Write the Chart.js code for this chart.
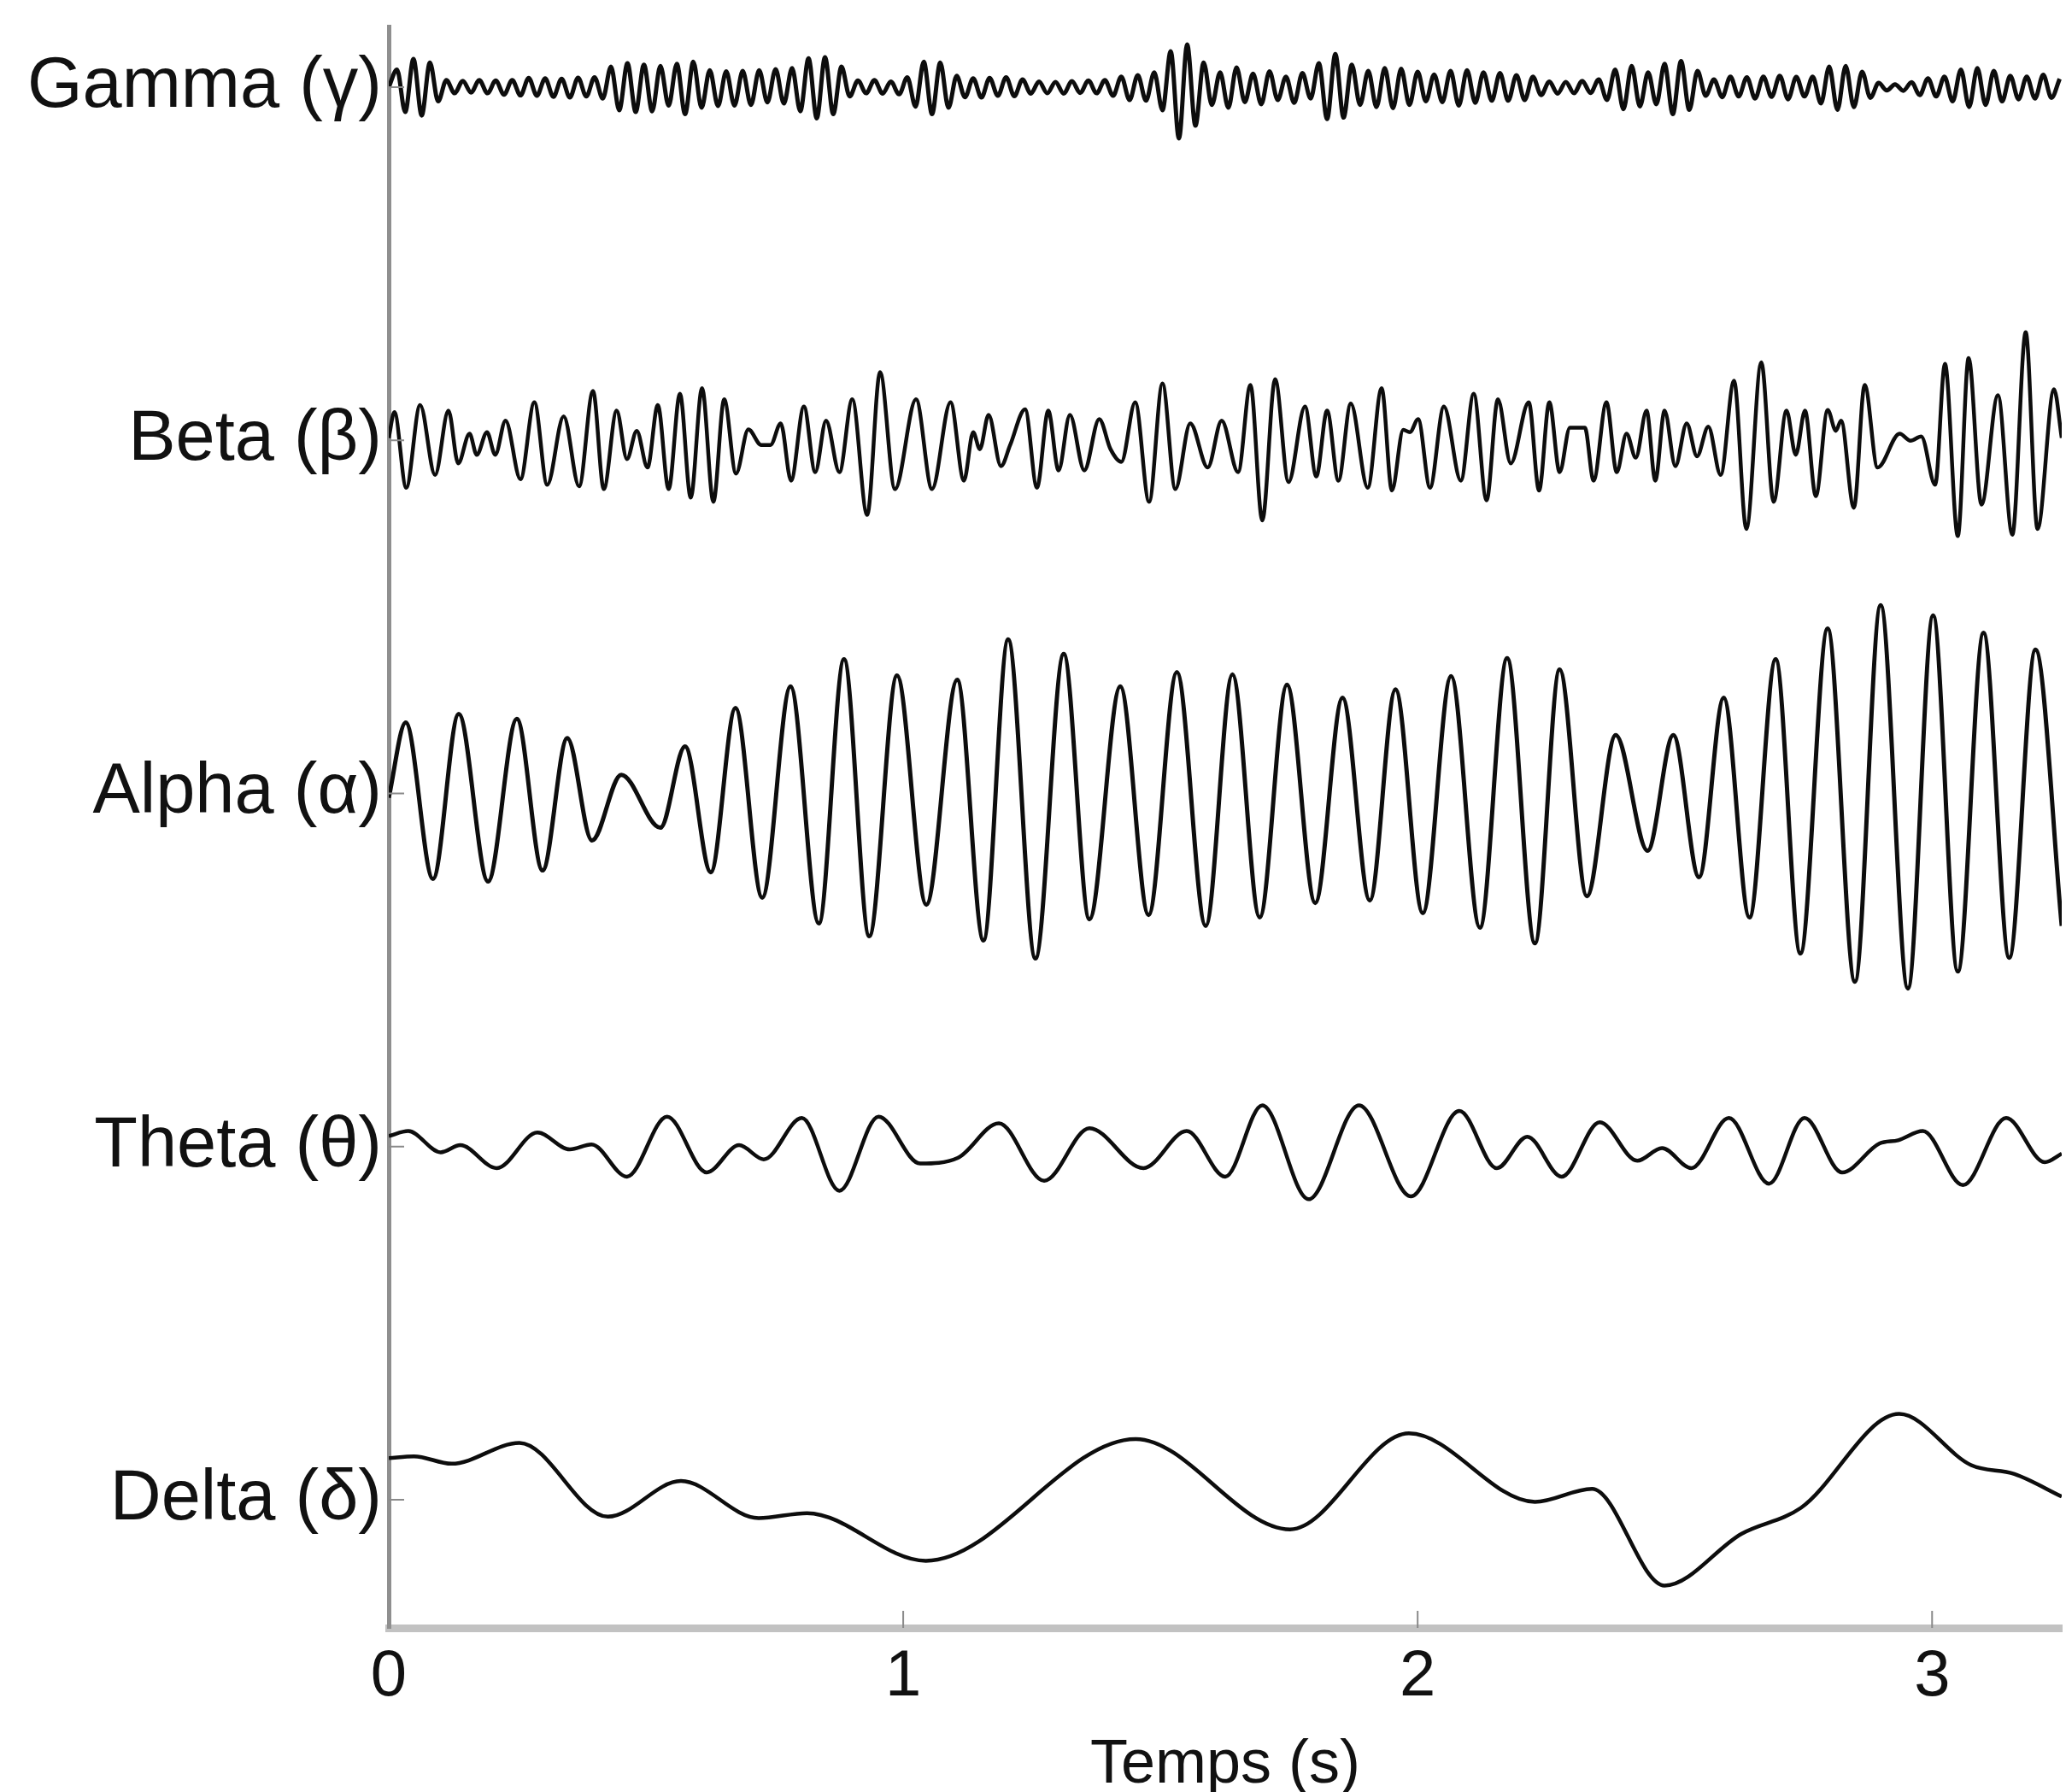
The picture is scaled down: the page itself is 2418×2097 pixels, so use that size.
<!DOCTYPE html>
<html lang="fr">
<head>
<meta charset="UTF-8" />
<title>Rythmes EEG</title>
<script src="https://cdn.jsdelivr.net/npm/chart.js"></script>
<style>
  body { margin: 0; background: #fff; }
  #wrap { width: 2418px; height: 2097px; }
</style>
</head>
<body>
<div id="wrap"><canvas id="chartEEG" width="2418" height="2097"></canvas></div>
<script>
// bandes, de bas en haut (une ligne de base par bande)
const bandLabels = ['Delta (δ)', 'Theta (θ)', 'Alpha (α)', 'Beta (β)', 'Gamma (γ)'];
const timeTicks = [0, 1, 2, 3];

// amplitudes en % de l'écart entre deux lignes de base
const gammaT = [
  0.000,0.016,0.032,0.048,0.064,0.080,0.096,0.112,0.128,0.144,
  0.160,0.176,0.192,0.208,0.224,0.240,0.256,0.272,0.288,0.304,
  0.320,0.336,0.352,0.368,0.384,0.400,0.416,0.432,0.448,0.464,
  0.480,0.496,0.512,0.528,0.544,0.560,0.576,0.592,0.608,0.624,
  0.640,0.656,0.672,0.688,0.704,0.720,0.736,0.752,0.768,0.784,
  0.800,0.816,0.832,0.848,0.864,0.880,0.896,0.912,0.928,0.944,
  0.960,0.976,0.992,1.008,1.024,1.040,1.056,1.072,1.088,1.104,
  1.120,1.136,1.152,1.168,1.184,1.200,1.216,1.232,1.248,1.264,
  1.280,1.296,1.312,1.328,1.344,1.360,1.376,1.392,1.408,1.424,
  1.440,1.456,1.472,1.488,1.504,1.520,1.536,1.552,1.568,1.584,
  1.600,1.616,1.632,1.648,1.664,1.680,1.696,1.712,1.728,1.744,
  1.760,1.776,1.792,1.808,1.824,1.840,1.856,1.872,1.888,1.904,
  1.920,1.936,1.952,1.968,1.984,2.000,2.016,2.032,2.048,2.064,
  2.080,2.096,2.112,2.128,2.144,2.160,2.176,2.192,2.208,2.224,
  2.240,2.256,2.272,2.288,2.304,2.320,2.336,2.352,2.368,2.384,
  2.400,2.416,2.432,2.448,2.464,2.480,2.496,2.512,2.528,2.544,
  2.560,2.576,2.592,2.608,2.624,2.640,2.656,2.672,2.688,2.704,
  2.720,2.736,2.752,2.768,2.784,2.800,2.816,2.832,2.848,2.864,
  2.880,2.896,2.912,2.928,2.944,2.960,2.976,2.992,3.008,3.024,
  3.040,3.056,3.072,3.088,3.104,3.120,3.136,3.152,3.168,3.184,
  3.200,3.216,3.232,3.248
];
const gammaV = [
  0,5,-7,8,-8,7,-4,2.0,-1.7,1.8,
  -1.5,2.0,-1.7,1.9,-2.1,2.0,-2.3,2.6,-2.4,2.5,
  -2.7,2.4,-2.9,2.7,-2.6,2.8,-3.2,5.8,-6.5,6.8,
  -7.0,6.4,-6.8,6.0,-5.2,6.6,-7.6,7.2,-5.8,4.8,
  -5.3,4.5,-5.2,4.6,-5.0,4.8,-4.3,5.1,-4.6,5.4,
  -6.8,8.2,-8.8,8.5,-7.6,5.8,-2.6,1.9,-1.7,2.0,
  -1.8,1.6,-2.0,2.8,-5.5,7.2,-7.6,7.0,-5.8,3.2,
  -2.8,2.5,-2.9,2.6,-2.4,2.8,-2.5,2.2,-1.8,1.6,
  -1.7,1.5,-1.8,1.7,-1.6,1.9,-1.7,2.0,-2.4,3.0,
  -3.6,3.4,-3.8,4.2,-6.5,10.2,-14.5,12.1,-10.9,7.0,
  -5.0,4.2,-5.8,5.6,-4.2,3.8,-4.8,4.5,-3.6,3.0,
  -4.4,4.0,-3.2,6.8,-9.0,9.4,-8.6,6.4,-5.0,4.6,
  -5.6,5.4,-5.9,5.2,-5.0,4.4,-4.0,3.6,-4.2,4.6,
  -5.2,4.8,-4.4,4.2,-3.8,4.0,-3.8,3.4,-3.6,3.0,
  -2.2,1.6,-1.8,1.5,-1.7,1.8,-1.6,2.2,-3.6,5.0,
  -6.2,6.0,-5.4,4.2,-4.8,6.6,-7.6,7.4,-6.4,4.6,
  -2.4,2.2,-2.8,3.0,-2.6,2.8,-3.2,3.0,-2.7,3.2,
  -3.4,2.9,-2.6,3.0,-4.6,5.8,-6.4,6.0,-5.6,4.4,
  -3.0,1.2,-0.9,0.8,-1.0,1.4,-2.2,2.5,-2.6,3.0,
  -4.0,5.0,-5.6,5.4,-5.0,4.6,-4.0,3.2,-3.4,3.0,
  -3.2,3.5,-3.0,2.4
];

const betaT = [
  0.000,0.011,0.034,0.061,0.090,0.116,0.135,0.157,0.171,0.191,0.207,0.227,0.256,0.283,0.308,0.340,
  0.370,0.397,0.418,0.443,0.463,0.482,0.503,0.523,0.544,0.566,0.587,0.609,0.631,0.652,0.675,0.699,
  0.724,0.742,0.762,0.782,0.807,0.829,0.850,0.876,0.901,0.930,0.955,0.984,1.025,1.056,1.092,
  1.118,1.136,1.149,1.166,1.190,1.208,1.237,1.260,1.282,1.302,1.324,1.352,1.381,1.403,1.424,1.451,
  1.478,1.504,1.529,1.558,1.592,1.619,1.651,1.675,1.698,1.723,1.749,1.781,1.803,1.824,1.846,1.870,
  1.903,1.930,1.950,1.972,1.985,2.001,2.024,2.051,2.084,2.109,2.134,2.156,2.181,
  2.216,2.236,2.256,2.276,2.296,2.325,2.342,2.367,2.387,2.406,2.424,2.445,2.462,2.480,2.501,2.523,
  2.543,2.565,2.589,2.615,2.639,2.668,2.692,2.717,2.735,2.753,2.774,2.797,2.813,2.823,2.848,2.869,
  2.894,2.937,2.958,2.979,3.006,3.025,3.050,3.071,3.096,3.128,3.156,3.182,3.205,3.237,3.252
];
const betaV = [
  0.7,8.0,-13.4,10.0,-9.8,8.4,-6.5,1.9,-4.1,2.3,-4.1,5.6,-11.0,10.8,-12.6,6.8,
  -13.0,14.0,-13.8,8.4,-5.3,2.7,-7.7,10.0,-13.8,13.2,-16.2,14.8,-17.4,11.6,-9.4,3.1,
  -1.3,-1.3,4.8,-11.4,9.6,-9.0,5.6,-9.0,11.6,-21.1,19.3,-13.8,11.6,-13.8,10.8,
  -11.4,2.3,-2.5,7.2,-7.3,-1.3,8.8,-13.4,8.4,-8.5,7.2,-8.5,6.0,-2.5,-6.1,10.8,
  -17.4,16.1,-13.8,4.8,-7.7,5.6,-9.0,15.7,-22.7,17.3,-11.8,9.6,-10.2,8.4,-11.4,10.4,
  -13.4,14.8,-14.2,3.0,2.3,6.0,-13.4,9.6,-11.4,13.2,-17.0,11.6,-6.5,
  10.8,-14.2,10.8,-9.0,3.6,3.6,-11.4,10.8,-9.0,1.9,-4.9,8.4,-11.4,8.4,-7.3,4.8,
  -4.5,3.9,-9.8,16.9,-25.1,22.1,-17.4,8.4,-4.1,8.4,-15.8,8.6,2.7,5.6,-19.1,15.7,
  -7.7,1.9,-0.1,1.1,-12.6,21.7,-27.1,23.3,-18.2,12.8,-26.7,30.6,-25.1,14.5,0.7
];

const alphaT = [
  0.000,0.033,0.086,0.136,0.193,0.249,0.299,0.347,0.395,0.452,0.528,0.576,0.626,0.674,0.726,0.781,
  0.836,0.885,0.934,0.988,1.045,1.105,1.156,1.204,1.257,1.312,1.362,1.422,1.477,1.532,1.588,1.640,
  1.693,1.746,1.801,1.854,1.907,1.957,2.010,2.065,2.121,2.174,2.228,2.276,2.329,2.385,2.447,2.497,
  2.547,2.595,2.645,2.696,2.744,2.797,2.850,2.900,2.953,3.002,3.050,3.100,3.150,3.201,3.252
];
const alphaV = [
  -1.2,20.1,-24.2,22.5,-24.9,21.1,-21.8,15.7,-13.3,5.3,-9.7,13.3,-22.3,24.2,-29.5,30.3,
  -36.8,38.0,-40.4,33.4,-31.5,32.2,-41.6,43.6,-46.7,39.5,-35.6,30.3,-34.4,34.4,-37.5,33.7,
  -35.1,30.8,-31.0,27.1,-30.3,29.5,-33.9,33.2,-38.0,38.3,-42.4,35.1,-29.1,16.5,-16.2,16.5,
  -23.7,27.1,-35.1,38.0,-45.3,46.7,-53.3,53.3,-55.2,50.4,-50.4,45.5,-46.5,40.7,-37.5
];

const thetaT = [
  0.000,0.038,0.101,0.139,0.210,0.289,0.352,0.394,0.463,0.541,0.618,0.681,0.729,0.803,0.876,0.952,
  1.033,1.106,1.186,1.274,1.362,1.467,1.551,1.626,1.698,1.788,1.886,1.987,2.081,2.154,2.213,2.280,
  2.354,2.427,2.475,2.532,2.605,2.683,2.752,2.825,2.898,2.934,2.982,3.060,3.144,3.219,3.252
];
const thetaV = [
  3.0,4.4,-1.6,0.4,-6.1,4.0,-0.8,0.6,-8.5,8.5,-7.3,0.4,-3.6,8.1,-12.5,8.5,
  -4.8,-3.2,6.6,-9.7,5.2,-6.1,4.4,-8.5,11.7,-14.9,11.7,-14.1,10.1,-6.1,2.8,-8.5,
  6.9,-4.0,-0.4,-6.1,8.1,-10.5,8.1,-7.3,0.9,1.8,4.4,-10.9,8.1,-4.4,-2.0
];

const deltaT = [0.000,0.049,0.122,0.254,0.426,0.568,0.719,0.813,1.044,1.452,1.752,1.983,2.228,2.339,2.480,2.630,2.745,2.936,3.076,3.160,3.252];
const deltaV = [11.8,12.3,10.2,16.1,-4.8,5.3,-5.2,-3.8,-17.3,17.2,-8.4,18.8,-0.6,3.1,-24.3,-9.6,-2.3,24.3,9.8,7.3,0.9];

// chaque série est décalée sur sa propre ligne de base
function toPoints(times, values, band) {
  const n = Math.min(times.length, values.length);
  const pts = [];
  for (let i = 0; i < n; i++) pts.push({ x: times[i], y: band + values[i] / 100 });
  return pts;
}

function waveDataset(label, times, values, band, width) {
  return {
    label: label,
    data: toPoints(times, values, band),
    borderColor: '#0d0d0d',
    borderWidth: width,
    pointRadius: 0,
    fill: false,
    cubicInterpolationMode: 'monotone'
  };
}

// petites graduations tournées vers l'intérieur du cadre
const innerTicks = {
  id: 'innerTicks',
  afterDatasetsDraw(chart) {
    const ctx = chart.ctx;
    const xs = chart.scales.x, ys = chart.scales.y;
    ctx.save();
    ctx.strokeStyle = '#8a8a8a';
    ctx.lineWidth = 2;
    ctx.beginPath();
    timeTicks.slice(1).forEach(v => {
      const px = xs.getPixelForValue(v);
      ctx.moveTo(px, ys.bottom);
      ctx.lineTo(px, ys.bottom - 20);
    });
    bandLabels.forEach((_, i) => {
      const py = ys.getPixelForValue(i);
      ctx.moveTo(xs.left, py);
      ctx.lineTo(xs.left + 18, py);
    });
    ctx.stroke();
    ctx.restore();
  }
};

const labelFont = "'Liberation Sans', Arial, Helvetica, sans-serif";

new Chart(document.getElementById('chartEEG'), {
  type: 'line',
  data: {
    datasets: [
      waveDataset('Gamma', gammaT, gammaV, 4, 5),
      waveDataset('Beta', betaT, betaV, 3, 4.5),
      waveDataset('Alpha', alphaT, alphaV, 2, 5),
      waveDataset('Theta', thetaT, thetaV, 1, 4.5),
      waveDataset('Delta', deltaT, deltaV, 0, 4.5)
    ]
  },
  options: {
    responsive: false,
    animation: false,
    layout: { padding: { top: 31, right: 5, left: 0, bottom: 0 } },
    plugins: {
      legend: { display: false },
      tooltip: { enabled: false }
    },
    scales: {
      x: {
        type: 'linear',
        min: 0,
        max: 3.252,
        afterBuildTicks: s => { s.ticks = timeTicks.map(v => ({ value: v })); },
        afterFit: s => { s.height = 192; s.paddingLeft = 0; s.paddingRight = 0; },
        grid: { display: true, drawOnChartArea: false, drawTicks: false },
        border: { display: true, color: '#c2c2c2', width: 9 },
        ticks: {
          padding: 12,
          maxRotation: 0,
          color: '#111',
          font: { family: labelFont, size: 76 }
        },
        title: {
          display: true,
          text: 'Temps (s)',
          color: '#111',
          padding: 0,
          font: { family: labelFont, size: 72, lineHeight: 0.85 }
        }
      },
      y: {
        type: 'linear',
        min: -0.363,
        max: 4.172,
        afterBuildTicks: s => { s.ticks = bandLabels.map((_, i) => ({ value: i })); },
        afterFit: s => { s.width = 455; s.paddingTop = 0; s.paddingBottom = 0; },
        grid: { display: true, drawOnChartArea: false, drawTicks: false },
        border: { display: true, color: '#8f8f8f', width: 5 },
        ticks: {
          padding: 8,
          autoSkip: false,
          color: '#111',
          font: { family: labelFont, size: 83 },
          callback: v => bandLabels[v]
        }
      }
    }
  },
  plugins: [innerTicks]
});
</script>
</body>
</html>
